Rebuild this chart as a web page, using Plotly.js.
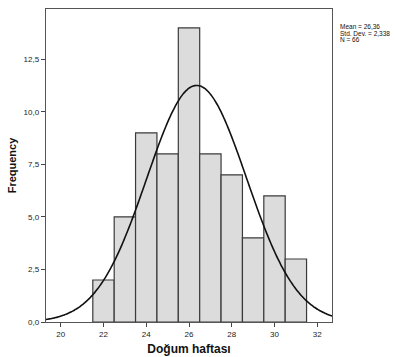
<!DOCTYPE html>
<html>
<head>
<meta charset="utf-8">
<script src="https://cdn.plot.ly/plotly-3.0.1.min.js"></script>
<style>html,body{margin:0;padding:0;background:#fff;}#chart{width:395px;height:357px;}</style>
</head>
<body>
<div id="chart"></div>
<script>
// Histogram data (bin centers and frequencies)
const weeks = [22, 23, 24, 25, 26, 27, 28, 29, 30, 31];
const counts = [2, 5, 9, 8, 14, 8, 7, 4, 6, 3];
// Summary statistics shown in the chart
const meanVal = 26.36;
const sdVal = 2.338;
const nVal = 66;
const statLabels = ["Mean = 26,36", "Std. Dev. = 2,338", "N = 66"];
const xTicks = [20, 22, 24, 26, 28, 30, 32];
const yTicks = [0, 2.5, 5, 7.5, 10, 12.5];

// Fitted normal curve (scaled by N * bin width)
const xRange = [19.31, 32.69];
const curveX = [], curveY = [];
const steps = 200;
for (let i = 0; i <= steps; i++) {
  const x = xRange[0] + (xRange[1] - xRange[0]) * i / steps;
  const z = (x - meanVal) / sdVal;
  curveX.push(x);
  curveY.push(nVal / (sdVal * Math.sqrt(2 * Math.PI)) * Math.exp(-0.5 * z * z));
}

const traces = [
  {
    type: 'bar', x: weeks, y: counts, width: 1,
    marker: {color: '#dcdcdc', line: {color: '#3a3a3a', width: 1.2}},
    hoverinfo: 'skip'
  },
  {
    type: 'scatter', mode: 'lines', x: curveX, y: curveY,
    line: {color: '#111', width: 1.6, shape: 'spline'},
    hoverinfo: 'skip'
  }
];

const font = {family: 'Liberation Sans, Arial, sans-serif', color: '#222'};
const annotations = statLabels.map((t, i) => ({
  text: t, xref: 'paper', yref: 'paper',
  x: 1.02, y: 1 - (18 + i * 6) / 313,
  xanchor: 'left', yanchor: 'middle', showarrow: false,
  font: {family: font.family, size: 6.5, color: '#111'}
}));

const layout = {
  width: 395, height: 357,
  margin: {l: 46, r: 63, t: 9, b: 35},
  paper_bgcolor: '#fff', plot_bgcolor: '#fff',
  separators: ',.',
  showlegend: false,
  bargap: 0,
  font: font,
  xaxis: {
    range: xRange, tickvals: xTicks, ticktext: xTicks.map(String),
    ticks: 'outside', ticklen: 4, tickcolor: '#444', tickwidth: 1,
    showline: true, linecolor: '#555', linewidth: 1.2, mirror: true,
    showgrid: false, zeroline: false,
    tickfont: {family: font.family, size: 8, color: '#222'},
    title: {text: '<b>Doğum haftası</b>', font: {family: font.family, size: 12, color: '#111'}, standoff: 6}
  },
  yaxis: {
    range: [0, 14.9], tickvals: yTicks, ticktext: yTicks.map(v => v.toFixed(1).replace('.', ',')),
    ticks: 'outside', ticklen: 4, tickcolor: '#444', tickwidth: 1,
    showline: true, linecolor: '#555', linewidth: 1.2, mirror: true,
    showgrid: false, zeroline: false,
    tickfont: {family: font.family, size: 8, color: '#222'},
    title: {text: '<b>Frequency</b>', font: {family: font.family, size: 11, color: '#111'}, standoff: 4}
  },
  annotations: annotations
};

Plotly.newPlot('chart', traces, layout, {displayModeBar: false, staticPlot: true});
</script>
</body>
</html>
